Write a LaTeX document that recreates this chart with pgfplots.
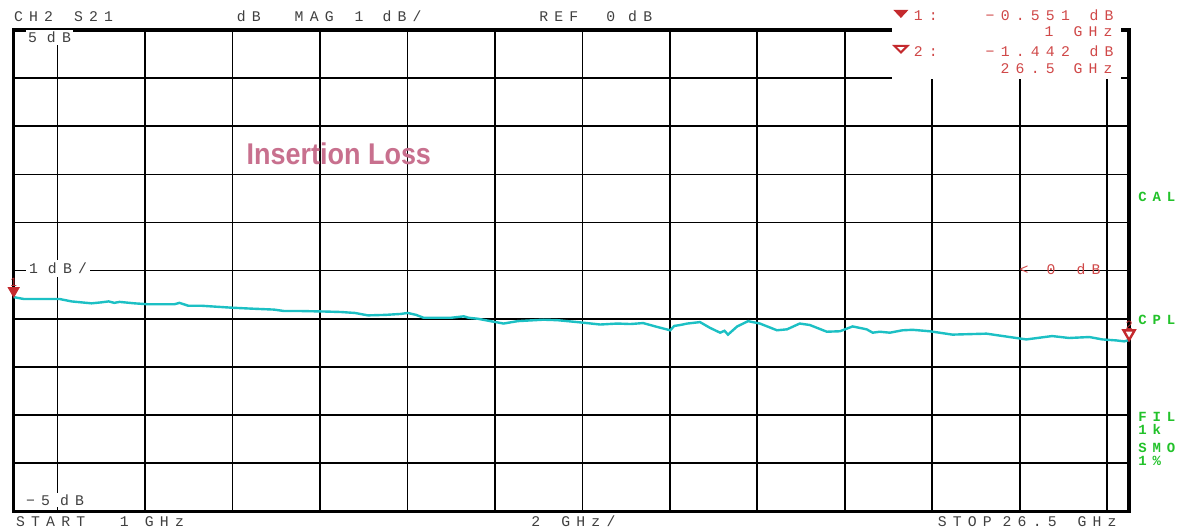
\documentclass[border=0pt]{standalone}
\usepackage{fontspec}
\usepackage{pgfplots}
\pgfplotsset{compat=1.18}
\setmainfont{Liberation Sans}
\newfontfamily\vna[LetterSpace=42]{Liberation Mono}
\definecolor{trace}{HTML}{1CC0C4}
\definecolor{mkred}{HTML}{C42A2E}
\definecolor{txred}{HTML}{D04848}
\definecolor{vgreen}{HTML}{22C22A}
\definecolor{hdr}{HTML}{404040}
\definecolor{ttl}{HTML}{C8708E}

\pgfplotstableread{
f dB
1.00 -0.551
1.23 -0.59
2.05 -0.59
2.32 -0.64
2.78 -0.68
3.00 -0.66
3.17 -0.64
3.30 -0.67
3.42 -0.65
3.76 -0.68
4.08 -0.70
4.67 -0.70
4.79 -0.67
4.99 -0.73
5.29 -0.73
5.97 -0.77
6.43 -0.79
6.95 -0.81
7.18 -0.84
7.57 -0.84
8.10 -0.85
8.48 -0.86
8.80 -0.88
9.10 -0.93
9.50 -0.92
9.85 -0.90
10.01 -0.88
10.20 -0.92
10.37 -0.98
11.00 -0.98
11.29 -0.95
11.40 -0.98
11.61 -1.00
11.90 -1.05
12.20 -1.10
12.52 -1.05
13.11 -1.02
13.43 -1.03
13.89 -1.07
14.41 -1.12
14.80 -1.10
15.10 -1.11
15.39 -1.09
15.71 -1.17
16.01 -1.24
16.10 -1.15
16.24 -1.13
16.40 -1.10
16.69 -1.07
16.92 -1.19
17.15 -1.29
17.25 -1.25
17.33 -1.33
17.54 -1.16
17.79 -1.05
18.06 -1.10
18.45 -1.24
18.68 -1.22
18.97 -1.10
19.20 -1.13
19.59 -1.27
19.89 -1.26
20.18 -1.16
20.50 -1.22
20.64 -1.29
20.80 -1.27
21.03 -1.29
21.32 -1.24
21.55 -1.23
21.94 -1.26
22.46 -1.33
23.24 -1.31
23.92 -1.40
24.15 -1.43
24.74 -1.36
25.13 -1.40
25.59 -1.38
25.89 -1.43
26.20 -1.45
26.39 -1.47
26.50 -1.442
}\trace

\begin{document}
\begin{tikzpicture}
\begin{scope}[x=0.5pt,y=-0.5pt]
\path[use as bounding box, fill=white] (0,0) rectangle (1177,529);
\end{scope}
\begin{axis}[
  at={(6pt,-256pt)}, anchor=south west,
  scale only axis, width=558.5pt, height=241pt,
  xmin=1, xmax=26.5, ymin=-5, ymax=5,
  xtick={2,4,...,26}, ytick={-4,...,4},
  xticklabels={}, yticklabels={},
  major tick length=0pt,
  grid=major,
  major grid style={black, line width=0.8pt},
  extra y ticks={0}, extra y tick labels={},
  extra y tick style={grid style={black, line width=1.3pt}},
  axis line style={black, line width=1.6pt},
  clip=false,
]
\addplot[trace, line width=1.2pt] table[x=f, y=dB] {\trace};
\addplot[only marks, mark=triangle*, mark size=3.2pt,
  mark options={rotate=180, yshift=-3.2pt, fill=mkred, draw=mkred}]
  coordinates {(1,-0.551)};
\addplot[only marks, mark=triangle*, mark size=3.2pt,
  mark options={rotate=180, yshift=-3.2pt, fill=white, draw=mkred, line width=1.2pt}]
  coordinates {(26.5,-1.442)};
\node[font=\fontsize{6}{6}\selectfont, text=mkred, anchor=south, inner sep=0pt] at (axis cs:1,-0.551) [yshift=5pt] {1};
\node[font=\fontsize{6}{6}\selectfont, text=mkred, anchor=south, inner sep=0pt] at (axis cs:26.5,-1.442) [yshift=5pt] {2};
\end{axis}
\begin{scope}[x=0.5pt,y=-0.5pt, every node/.style={inner sep=0pt, anchor=base west, font=\vna\fontsize{7.4}{7.4}\selectfont}]
% header
\node[text=hdr] at (12,22) {CH2};
\node[text=hdr] at (72,22) {S21};
\node[text=hdr] at (235,22) {dB};
\node[text=hdr] at (293,22) {MAG};
\node[text=hdr] at (353,22) {1};
\node[text=hdr] at (381,22) {dB/};
\node[text=hdr] at (538,22) {REF};
\node[text=hdr] at (605,22) {0};
\node[text=hdr] at (627,22) {dB};
% marker box
\fill[white] (892,0) rectangle (1121,79);
\fill[mkred] (893,10) -- (908,10) -- (900.5,18) -- cycle;
\draw[mkred, line width=1pt] (894,46) -- (907,46) -- (900.5,52.5) -- cycle;
\node[text=txred] at (913,21) {1:};
\node[text=txred] at (985,21) {−0.551};
\node[text=txred] at (1089,21) {dB};
\node[text=txred] at (1044,37) {1};
\node[text=txred] at (1073,37) {GHz};
\node[text=txred] at (913,57) {2:};
\node[text=txred] at (985,57) {−1.442};
\node[text=txred] at (1089,57) {dB};
\node[text=txred] at (1000,74) {26.5};
\node[text=txred] at (1073,74) {GHz};
% inside labels
\node[text=hdr, fill=white, inner sep=1pt] at (24,43) {5\hspace{5pt}dB};
\node[text=hdr, fill=white, inner sep=1pt] at (22,506) {−5\hspace{5pt}dB};
\node[text=hdr, fill=white, inner sep=1.5pt] at (24,274) {1\hspace{5pt}dB/};
\node[text=txred] at (1019,275) {<};
\node[text=txred] at (1046,275) {0};
\node[text=txred] at (1076,275) {dB};
% bottom
\node[text=hdr] at (14,527) {START};
\node[text=hdr] at (118,527) {1};
\node[text=hdr] at (143,527) {GHz};
\node[text=hdr] at (530,527) {2};
\node[text=hdr] at (560,527) {GHz/};
\node[text=hdr] at (937,527) {STOP};
\node[text=hdr] at (1002,527) {26.5};
\node[text=hdr] at (1077,527) {GHz};
% right status
\node[text=vgreen, font=\vna\bfseries\fontsize{7}{7}\selectfont] at (1138,202) {CAL};
\node[text=vgreen, font=\vna\bfseries\fontsize{7}{7}\selectfont] at (1138,325) {CPL};
\node[text=vgreen, font=\vna\bfseries\fontsize{7}{7}\selectfont] at (1138,422) {FIL};
\node[text=vgreen, font=\vna\bfseries\fontsize{7}{7}\selectfont] at (1138,435) {1k};
\node[text=vgreen, font=\vna\bfseries\fontsize{7}{7}\selectfont] at (1138,453) {SMO};
\node[text=vgreen, font=\vna\bfseries\fontsize{7}{7}\selectfont] at (1138,466) {1\%};
% title
\node[text=ttl, font=\bfseries\fontsize{15}{15}\selectfont, xscale=0.9] at (245,165) {Insertion Loss};
\end{scope}
\end{tikzpicture}
\end{document}
